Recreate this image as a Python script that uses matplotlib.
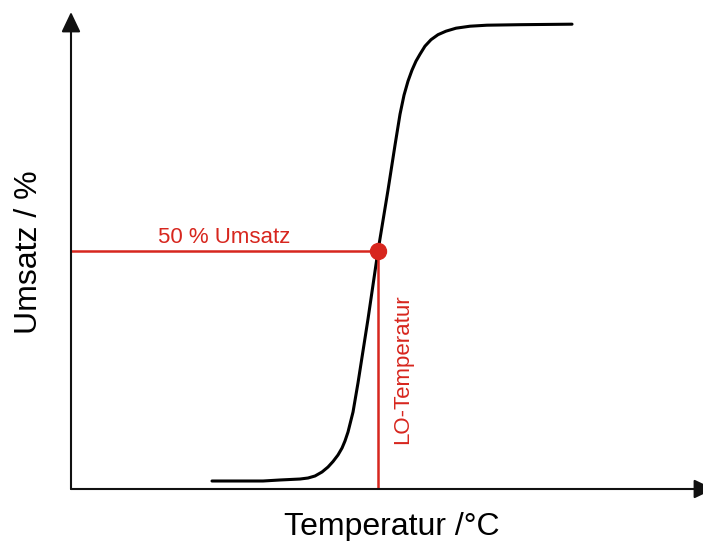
import numpy as np
import matplotlib
matplotlib.use("Agg")
import matplotlib.pyplot as plt

plt.rcParams['font.family'] = ['Liberation Sans', 'DejaVu Sans']

# light-off curve: conversion (%) vs. temperature (arbitrary units)
temp = [21.93, 29.86, 32.50, 35.61, 36.86, 37.95, 39.04, 39.97, 40.75, 41.52,
        42.15, 42.61, 43.08, 43.86, 44.63, 45.41, 46.19, 47.74, 49.30, 50.39,
        51.17, 51.79, 52.41, 53.03, 53.65, 54.28, 55.05, 55.99, 57.08, 58.32,
        59.88, 62.05, 64.70, 69.83, 77.92]
umsatz = [0.0, 0.0, 0.22, 0.43, 0.65, 1.09, 1.96, 3.04, 4.24, 5.65,
          7.17, 8.70, 10.65, 15.0, 21.3, 28.26, 35.22, 50.0, 63.26, 73.04,
          79.78, 83.91, 86.96, 89.35, 91.30, 92.83, 94.57, 95.98, 97.07, 97.83,
          98.48, 98.91, 99.13, 99.24, 99.35]

T50 = 47.74  # light-off temperature
U50 = 50.0   # 50 % conversion

red = '#d7261e'

fig = plt.figure(figsize=(7.03, 5.41), dpi=100)
ax = fig.add_axes([71 / 703, 52 / 541, 643 / 703, 477 / 541])
ax.set_xlim(0, 100)
ax.set_ylim(-1.74, 102.0)
ax.axis('off')

# axes with arrow heads
arrow = dict(arrowstyle='-|>,head_length=0.61,head_width=0.29', mutation_scale=20,
             color='#111111', lw=1.5, shrinkA=0, shrinkB=0)
ax.annotate('', xy=(0, 1), xytext=(0, 0), xycoords='axes fraction', arrowprops=arrow,
            annotation_clip=False)
ax.annotate('', xy=(1, 0), xytext=(0, 0), xycoords='axes fraction', arrowprops=arrow,
            annotation_clip=False)

ax.plot(temp, umsatz, color='black', lw=2.2, solid_capstyle='round', solid_joinstyle='round')

ax.plot([0, T50], [U50, U50], color=red, lw=1.8)
ax.plot([T50, T50], [-1.74, U50], color=red, lw=1.8)
ax.plot([T50], [U50], 'o', color=red, ms=11.5)

ax.text(23.9, 51.7, '50 % Umsatz', color=red, fontsize=16, ha='center', va='baseline')
ax.text(51.5, 24.3, 'LO-Temperatur', color=red, fontsize=16, rotation=90,
        ha='center', va='center')

fig.text(392 / 703, 1 - 535 / 541, 'Temperatur /°C', fontsize=23, ha='center', va='baseline')
fig.text(29 / 703, 1 - 252.5 / 541, 'Umsatz / %', fontsize=23, rotation=90,
         ha='center', va='center')

fig.savefig('out.png', dpi=100)
